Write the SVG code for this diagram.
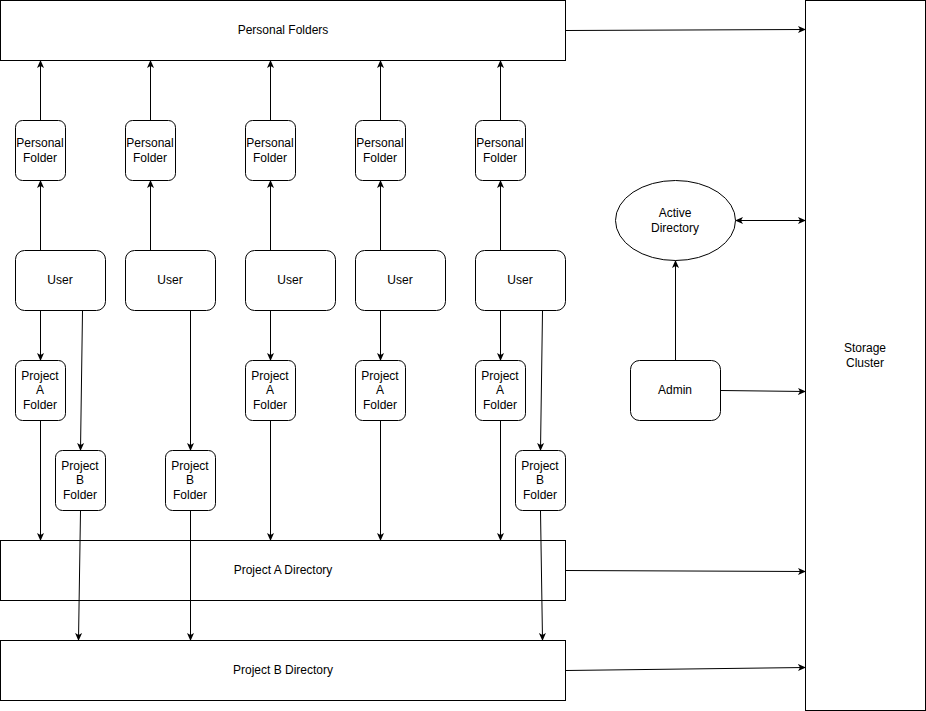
<svg xmlns="http://www.w3.org/2000/svg" width="926" height="711" viewBox="0 0 926 711">
<style>
.b{fill:#fff;stroke:#000;stroke-width:1}
text{font-family:"Liberation Sans",Arial,sans-serif;font-size:12px;fill:#000;text-anchor:middle}
.c line{stroke:#000;stroke-width:1;marker-end:url(#a)}
</style>
<defs><marker id="a" markerWidth="8" markerHeight="8" refX="7" refY="4" orient="auto" markerUnits="userSpaceOnUse"><path d="M0,0.5 L8,4 L0,7.5 L2,4 Z" fill="#000"/></marker>
<marker id="s" markerWidth="8" markerHeight="8" refX="1" refY="4" orient="auto" markerUnits="userSpaceOnUse"><path d="M8,0.5 L0,4 L8,7.5 L6,4 Z" fill="#000"/></marker></defs>
<rect width="926" height="711" fill="#fff"/>
<g id="personal-folders"><rect class="b" x="0.5" y="0.5" width="565" height="60"/><text x="283" y="34">Personal Folders</text></g>
<g id="storage"><rect class="b" x="805.5" y="0.5" width="120" height="710"/><text x="865" y="352">Storage</text><text x="865" y="367">Cluster</text></g>
<g id="dirA"><rect class="b" x="0.5" y="540.5" width="565" height="60"/><text x="283" y="574">Project A Directory</text></g>
<g id="dirB"><rect class="b" x="0.5" y="640.5" width="565" height="60"/><text x="283" y="674">Project B Directory</text></g>
<g id="ad"><ellipse class="b" cx="675.5" cy="220.5" rx="60" ry="40"/><text x="675" y="217">Active</text><text x="675" y="232">Directory</text></g>
<g id="admin"><rect class="b" x="630.5" y="360.5" width="90" height="60" rx="9"/><text x="675" y="394">Admin</text></g>
<g id="pf1"><rect class="b" x="15.5" y="120.5" width="50" height="60" rx="7"/><text x="40" y="147">Personal</text><text x="40" y="162">Folder</text></g>
<g id="pf2"><rect class="b" x="125.5" y="120.5" width="50" height="60" rx="7"/><text x="150" y="147">Personal</text><text x="150" y="162">Folder</text></g>
<g id="pf3"><rect class="b" x="245.5" y="120.5" width="50" height="60" rx="7"/><text x="270" y="147">Personal</text><text x="270" y="162">Folder</text></g>
<g id="pf4"><rect class="b" x="355.5" y="120.5" width="50" height="60" rx="7"/><text x="380" y="147">Personal</text><text x="380" y="162">Folder</text></g>
<g id="pf5"><rect class="b" x="475.5" y="120.5" width="50" height="60" rx="7"/><text x="500" y="147">Personal</text><text x="500" y="162">Folder</text></g>
<g id="u1"><rect class="b" x="15.5" y="250.5" width="90" height="60" rx="9"/><text x="60" y="284">User</text></g>
<g id="u2"><rect class="b" x="125.5" y="250.5" width="90" height="60" rx="9"/><text x="170" y="284">User</text></g>
<g id="u3"><rect class="b" x="245.5" y="250.5" width="90" height="60" rx="9"/><text x="290" y="284">User</text></g>
<g id="u4"><rect class="b" x="355.5" y="250.5" width="90" height="60" rx="9"/><text x="400" y="284">User</text></g>
<g id="u5"><rect class="b" x="475.5" y="250.5" width="90" height="60" rx="9"/><text x="520" y="284">User</text></g>
<g id="pa1"><rect class="b" x="15.5" y="360.5" width="50" height="60" rx="7"/><text x="40" y="380">Project</text><text x="40" y="394">A</text><text x="40" y="409">Folder</text></g>
<g id="pa3"><rect class="b" x="245.5" y="360.5" width="50" height="60" rx="7"/><text x="270" y="380">Project</text><text x="270" y="394">A</text><text x="270" y="409">Folder</text></g>
<g id="pa4"><rect class="b" x="355.5" y="360.5" width="50" height="60" rx="7"/><text x="380" y="380">Project</text><text x="380" y="394">A</text><text x="380" y="409">Folder</text></g>
<g id="pa5"><rect class="b" x="475.5" y="360.5" width="50" height="60" rx="7"/><text x="500" y="380">Project</text><text x="500" y="394">A</text><text x="500" y="409">Folder</text></g>
<g id="pb1"><rect class="b" x="55.5" y="450.5" width="50" height="60" rx="7"/><text x="80" y="470">Project</text><text x="80" y="484">B</text><text x="80" y="499">Folder</text></g>
<g id="pb2"><rect class="b" x="165.5" y="450.5" width="50" height="60" rx="7"/><text x="190" y="470">Project</text><text x="190" y="484">B</text><text x="190" y="499">Folder</text></g>
<g id="pb5"><rect class="b" x="515.5" y="450.5" width="50" height="60" rx="7"/><text x="540" y="470">Project</text><text x="540" y="484">B</text><text x="540" y="499">Folder</text></g>
<g class="c">
<line x1="40.5" y1="120" x2="40.5" y2="61"/><line x1="150.5" y1="120" x2="150.5" y2="61"/><line x1="270.5" y1="120" x2="270.5" y2="61"/><line x1="380.5" y1="120" x2="380.5" y2="61"/><line x1="500.5" y1="120" x2="500.5" y2="61"/>
<line x1="40.5" y1="250" x2="40.5" y2="181"/><line x1="150.5" y1="250" x2="150.5" y2="181"/><line x1="270.5" y1="250" x2="270.5" y2="181"/><line x1="380.5" y1="250" x2="380.5" y2="181"/><line x1="500.5" y1="250" x2="500.5" y2="181"/>
<line x1="40.5" y1="311" x2="40.5" y2="360"/><line x1="270.5" y1="311" x2="270.5" y2="360"/><line x1="380.5" y1="311" x2="380.5" y2="360"/><line x1="500.5" y1="311" x2="500.5" y2="360"/>
<line x1="40.5" y1="421" x2="40.5" y2="540"/><line x1="270.5" y1="421" x2="270.5" y2="540"/><line x1="380.5" y1="421" x2="380.5" y2="540"/><line x1="500.5" y1="421" x2="500.5" y2="540"/>
<line x1="82.5" y1="311" x2="80.5" y2="450"/><line x1="190.5" y1="311" x2="190.5" y2="450"/><line x1="542.5" y1="311" x2="540.5" y2="450"/>
<line x1="80.5" y1="511" x2="78.5" y2="640"/><line x1="190.5" y1="511" x2="190.5" y2="640"/><line x1="540.5" y1="511" x2="542.5" y2="640"/>
<line x1="566" y1="30.5" x2="805" y2="29.5"/>
<line x1="736" y1="220.5" x2="805" y2="220.5" marker-start="url(#s)"/>
<line x1="675.5" y1="360" x2="675.5" y2="261"/>
<line x1="721" y1="390.5" x2="805" y2="391.5"/>
<line x1="566" y1="570.5" x2="805" y2="571.5"/>
<line x1="566" y1="670.5" x2="805" y2="667.5"/>
</g>
</svg>
